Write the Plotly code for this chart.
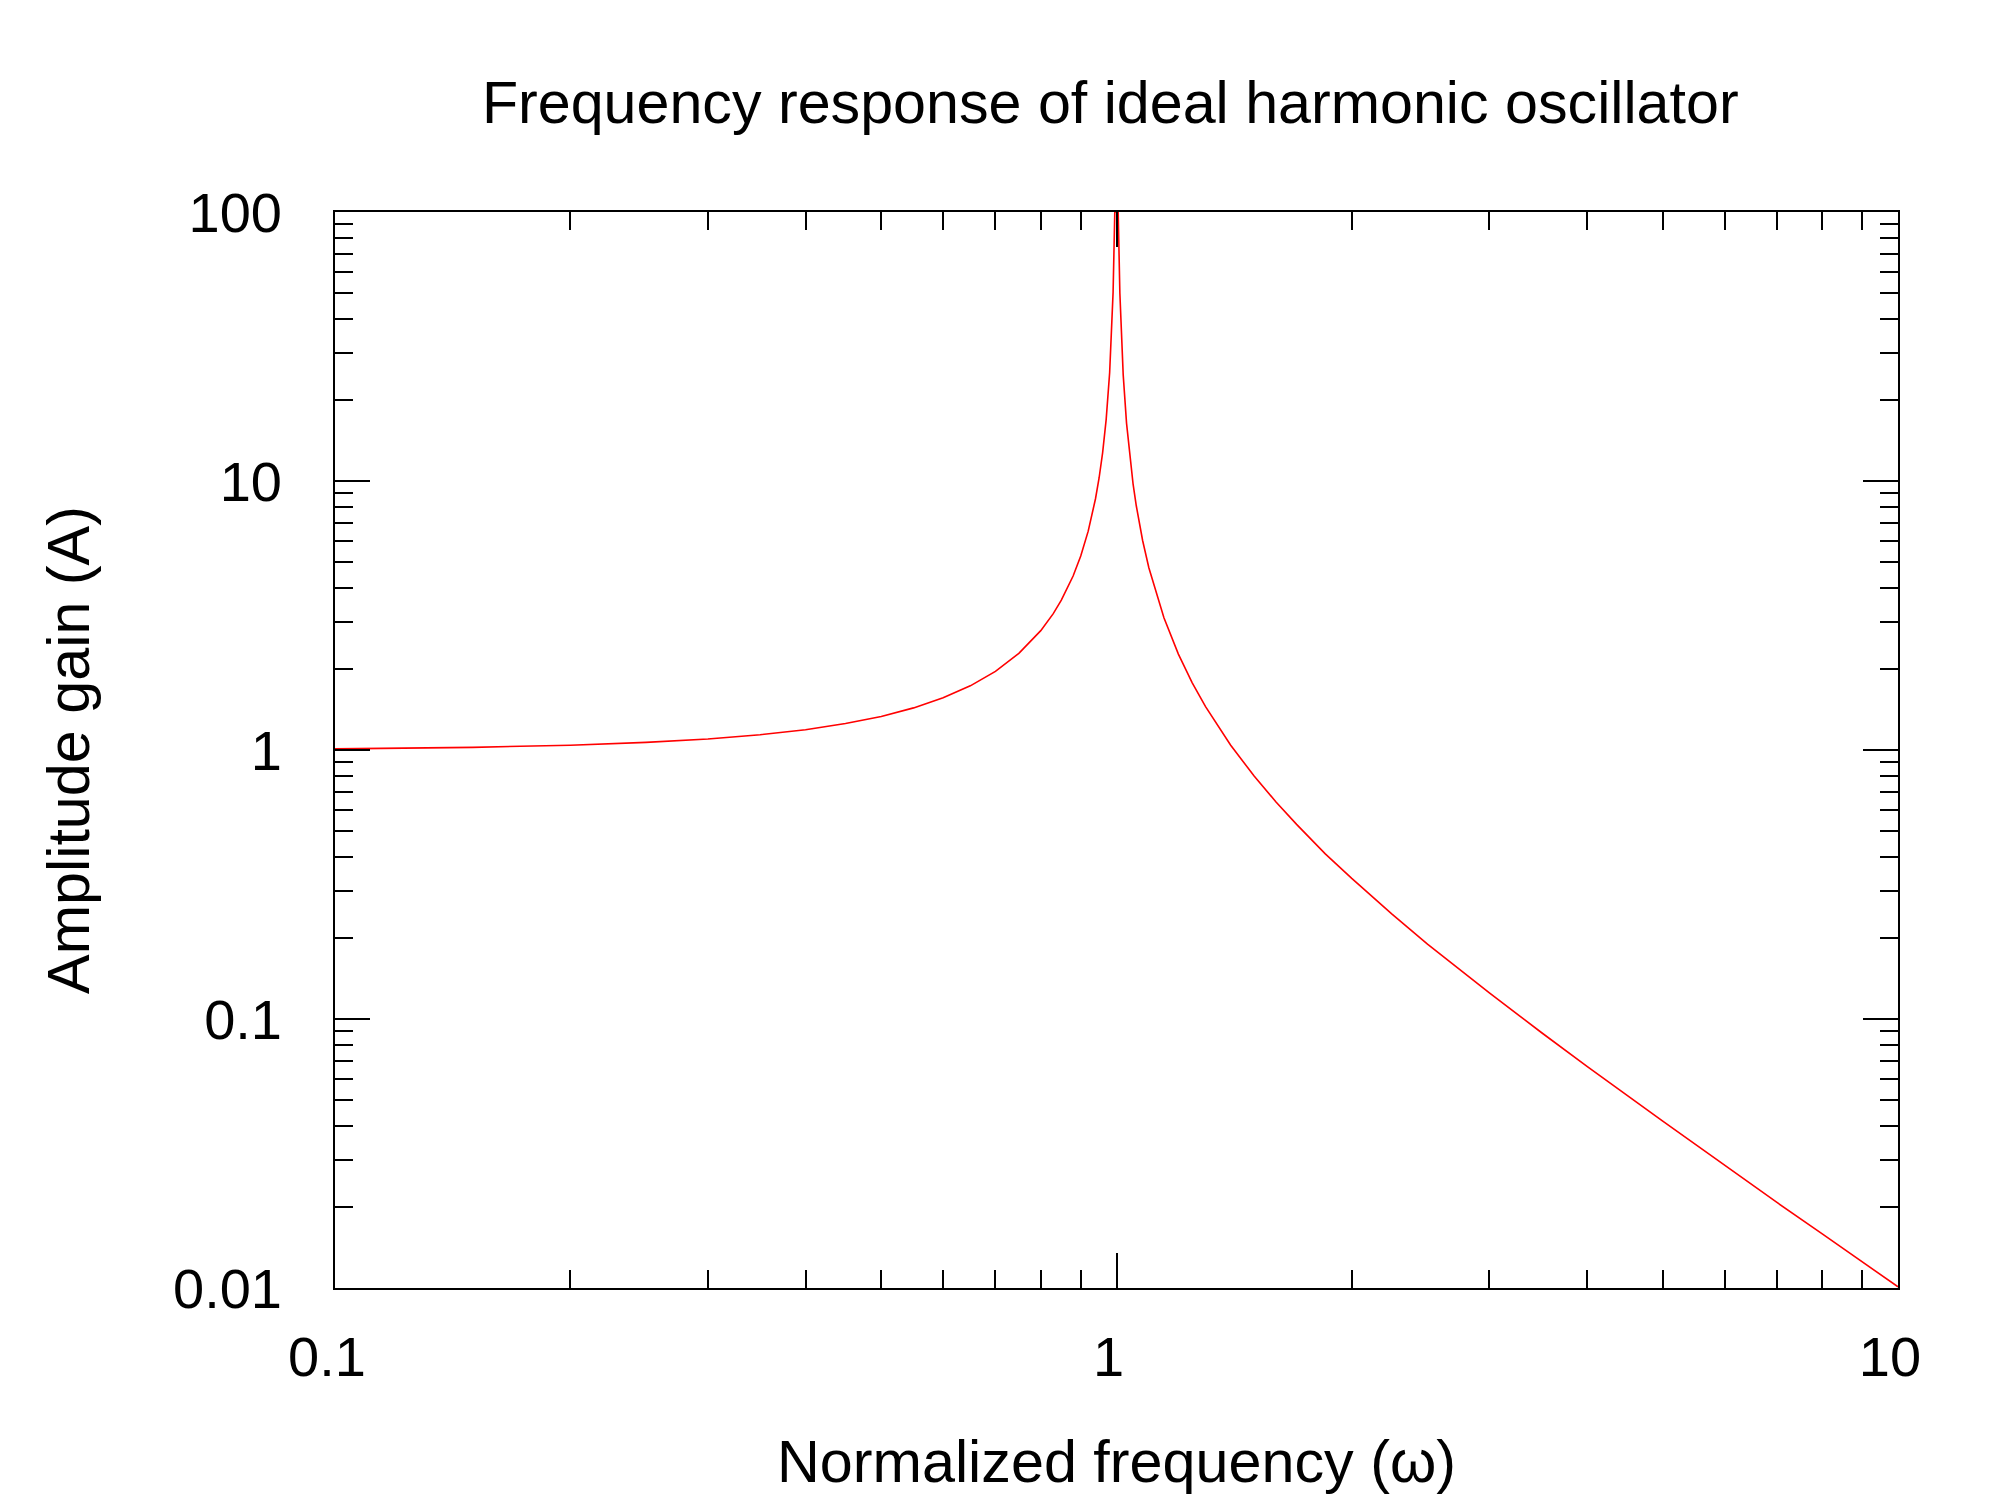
import plotly.graph_objects as go

# Normalized frequency (omega) and amplitude gain (A)
omega = [0.1, 0.15, 0.2, 0.25, 0.3, 0.35, 0.4, 0.45, 0.5, 0.55, 0.6, 0.65, 0.7,
         0.75, 0.8, 0.83, 0.85, 0.88, 0.9, 0.92, 0.94, 0.95, 0.96, 0.97, 0.98,
         0.985, 0.99, 0.995,
         1.005, 1.01, 1.015, 1.02, 1.03, 1.04, 1.05, 1.06, 1.08, 1.1, 1.15, 1.2,
         1.25, 1.3, 1.4, 1.5, 1.6, 1.7, 1.85, 2.0, 2.25, 2.5, 3.0, 3.5, 4.0, 5.0,
         6.0, 7.0, 8.0, 9.0, 10.0]
gain = [1.01, 1.023, 1.042, 1.067, 1.099, 1.14, 1.19, 1.254, 1.333, 1.434, 1.563,
        1.732, 1.961, 2.286, 2.778, 3.213, 3.604, 4.433, 5.263, 6.51, 8.59, 10.26,
        12.76, 16.92, 25.25, 33.7, 50.25, 100.3,
        99.75, 49.75, 33.1, 24.75, 16.42, 12.25, 9.76, 8.09, 6.01, 4.76, 3.10,
        2.273, 1.778, 1.449, 1.042, 0.8, 0.641, 0.529, 0.411, 0.333, 0.246, 0.19,
        0.125, 0.0889, 0.0667, 0.0417, 0.0286, 0.0208, 0.0159, 0.0125, 0.0101]

x_ticks = [0.1, 1, 10]
x_tick_text = ["0.1", "1", "10"]
y_ticks = [0.01, 0.1, 1, 10, 100]
y_tick_text = ["0.01", "0.1", "1", "10", "100"]

FONT = "Liberation Sans, Arial, sans-serif"

fig = go.Figure()
fig.add_trace(go.Scatter(x=omega, y=gain, mode="lines",
                         line=dict(color="#ff0000", width=1.6),
                         showlegend=False))

axis_common = dict(
    type="log",
    showgrid=False,
    zeroline=False,
    showline=True,
    linecolor="black",
    linewidth=1.6,
    mirror="ticks",
    ticks="inside",
    ticklen=35,
    tickwidth=1.5,
    tickcolor="black",
    tickmode="array",
    tickfont=dict(family=FONT, size=56, color="black"),
    minor=dict(ticks="inside", ticklen=18, tickwidth=1.5, tickcolor="black",
               dtick="D1", showgrid=False),
)

fig.update_xaxes(**axis_common, range=[-1, 1], tickvals=x_ticks, ticktext=x_tick_text,
                 ticklabelstandoff=19, ticklabelshift=-8,
                 title=dict(text="Normalized frequency (ω)",
                            font=dict(family=FONT, size=59.3, color="black"),
                            standoff=53))
fig.update_yaxes(**axis_common, range=[-2, 2], tickvals=y_ticks, ticktext=y_tick_text,
                 ticklabelstandoff=40,
                 title=dict(text="Amplitude gain (A)",
                            font=dict(family=FONT, size=59.3, color="black"),
                            standoff=64))

fig.update_layout(
    width=2000, height=1500,
    paper_bgcolor="white", plot_bgcolor="white",
    margin=dict(l=327, r=110, t=204, b=220),
    title=dict(text="Frequency response of ideal harmonic oscillator",
               font=dict(family=FONT, size=59.2, color="black"),
               x=0.496, xref="paper", xanchor="center",
               y=1 - 94 / 1500, yref="container", yanchor="middle"),
)

fig.write_html("out.html")
